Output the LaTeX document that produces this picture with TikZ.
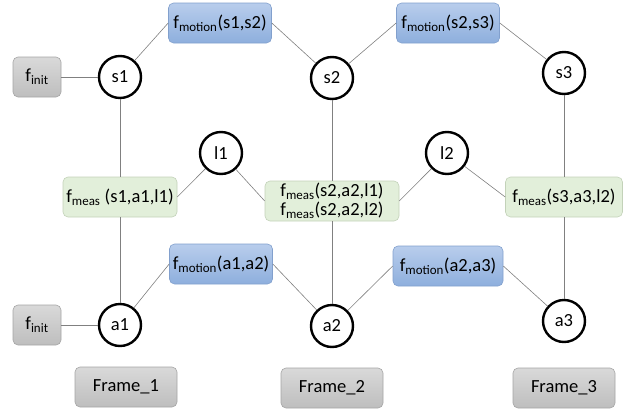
\documentclass[tikz,border=0pt]{standalone}
\usepackage{fontspec}
\setmainfont{Carlito}
\usepackage{xcolor}
\usetikzlibrary{positioning}
\definecolor{motionTop}{RGB}{184,205,236}
\definecolor{motionBot}{RGB}{142,175,221}
\definecolor{motionLine}{RGB}{130,160,205}
\definecolor{measFill}{RGB}{226,239,218}
\definecolor{measLine}{RGB}{195,210,185}
\definecolor{initTop}{RGB}{217,217,217}
\definecolor{initBot}{RGB}{190,190,190}
\definecolor{initLine}{RGB}{165,165,165}

\begin{document}
\begin{tikzpicture}[% styles used in image code
      x = 1pt, y = -1pt,
   font = \fontsize{18.5}{19}\selectfont,
var/.style = {circle, draw, line width=2.4pt, fill=white,
              minimum size=42pt, inner sep=0pt},
fac/.style = {rounded corners=5pt, minimum height=40pt,
              inner sep=2pt, line width=0.6pt},
motion/.style = {fac, draw=motionLine, top color=motionTop,
                 bottom color=motionBot, minimum width=103pt},
meas/.style = {fac, draw=measLine, fill=measFill},
init/.style = {fac, draw=initLine, top color=initTop,
               bottom color=initBot, minimum width=48pt},
frame/.style = {init, minimum width=102pt},
edge/.style = {draw=gray, line width=0.6pt}
                        ]
	\path[use as bounding box] (0,0) rectangle (627,410);

	% variables
	\node[var] (s1) at (120,77)  {s1};
	\node[var] (s2) at (332,78)  {s2};
	\node[var] (s3) at (564,73)  {s3};
	\node[var] (l1) at (221,153) {l1};
	\node[var] (l2) at (447,153) {l2};
	\node[var] (a1) at (120,325) {a1};
	\node[var] (a2) at (332,326) {a2};
	\node[var] (a3) at (564,321) {a3};

	% factors
	\node[init] (is) at (37,77)  {f\textsubscript{init}};
	\node[init] (ia) at (37,325) {f\textsubscript{init}};
	\node[motion] (ms12) at (220,23)  {f\textsubscript{motion}(s1,s2)};
	\node[motion] (ms23) at (448,23)  {f\textsubscript{motion}(s2,s3)};
	\node[motion] (ma12) at (221,264) {f\textsubscript{motion}(a1,a2)};
	\node[motion, minimum width=110pt] (ma23) at (448,266) {f\textsubscript{motion}(a2,a3)};
	\node[meas, minimum width=114pt] (m1) at (120,197) {f\textsubscript{meas} (s1,a1,l1)};
	\node[meas, minimum width=134pt, align=center] (m2) at (332,201)
		{f\textsubscript{meas}(s2,a2,l1)\\f\textsubscript{meas}(s2,a2,l2)};
	\node[meas, minimum width=117pt] (m3) at (564,197) {f\textsubscript{meas}(s3,a3,l2)};

	% frames
	\node[frame] (fr1) at (126,387) {Frame\_1};
	\node[frame] (fr2) at (332,388) {Frame\_2};
	\node[frame] (fr3) at (564,388) {Frame\_3};

	% connections
	\draw[edge] (is) -- (s1);
	\draw[edge] (ia) -- (a1);
	\draw[edge] (s1) -- (ms12.west);
	\draw[edge] (ms12.east) -- (s2);
	\draw[edge] (s2) -- (ms23.west);
	\draw[edge] (ms23.east) -- (s3);
	\draw[edge] (a1) -- (ma12.west);
	\draw[edge] (ma12.east) -- (a2);
	\draw[edge] (a2) -- (ma23.west);
	\draw[edge] (ma23.east) -- (a3);
	\draw[edge] (s1) -- (m1) -- (a1);
	\draw[edge] (s2) -- (m2) -- (a2);
	\draw[edge] (s3) -- (m3) -- (a3);
	\draw[edge] (l1) -- (m1.east);
	\draw[edge] (l1) -- (m2.west);
	\draw[edge] (l2) -- (m2.east);
	\draw[edge] (l2) -- (m3.west);
\end{tikzpicture}
\end{document}
